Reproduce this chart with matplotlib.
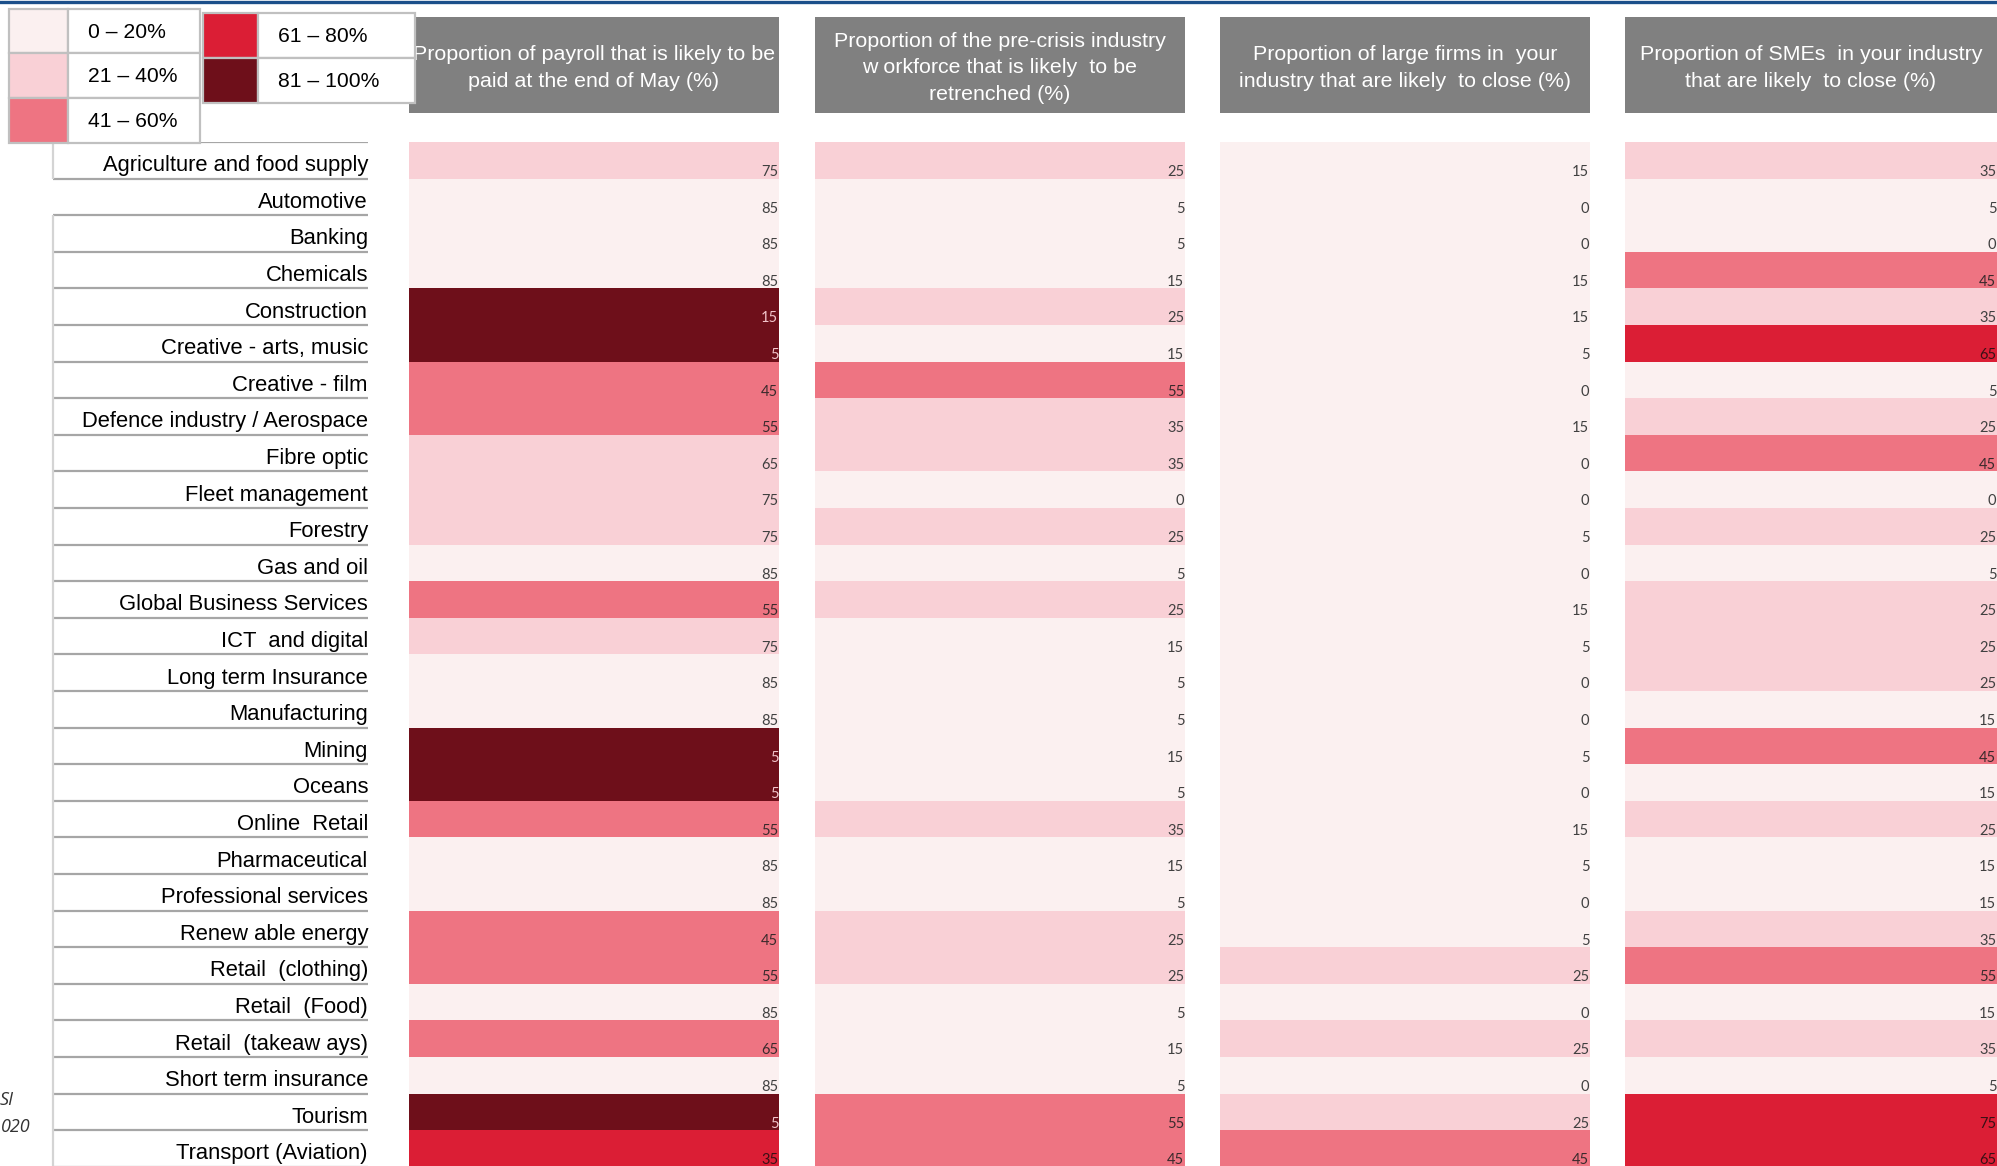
import matplotlib.pyplot as plt
from matplotlib.patches import Rectangle

W, H = 1997, 1166

industries = [
    "Agriculture and food supply", "Automotive", "Banking", "Chemicals",
    "Construction", "Creative - arts, music", "Creative - film",
    "Defence industry / Aerospace", "Fibre optic", "Fleet management",
    "Forestry", "Gas and oil", "Global Business Services", "ICT  and digital",
    "Long term Insurance", "Manufacturing", "Mining", "Oceans",
    "Online  Retail", "Pharmaceutical", "Professional services",
    "Renew able energy", "Retail  (clothing)", "Retail  (Food)",
    "Retail  (takeaw ays)", "Short term insurance", "Tourism",
    "Transport (Aviation)",
]

payroll = [75, 85, 85, 85, 15, 5, 45, 55, 65, 75, 75, 85, 55, 75,
           85, 85, 5, 5, 55, 85, 85, 45, 55, 85, 65, 85, 5, 35]
# colour band shown for the payroll column (0 = 0-20% ... 4 = 81-100%)
payroll_band = [1, 0, 0, 0, 4, 4, 2, 2, 1, 1, 1, 0, 2, 1,
                0, 0, 4, 4, 2, 0, 0, 2, 2, 0, 2, 0, 4, 3]
retrenched = [25, 5, 5, 15, 25, 15, 55, 35, 35, 0, 25, 5, 25, 15,
              5, 5, 15, 5, 35, 15, 5, 25, 25, 5, 15, 5, 55, 45]
large_close = [15, 0, 0, 15, 15, 5, 0, 15, 0, 0, 5, 0, 15, 5,
               0, 0, 5, 0, 15, 5, 0, 5, 25, 0, 25, 0, 25, 45]
sme_close = [35, 5, 0, 45, 35, 65, 5, 25, 45, 0, 25, 5, 25, 25,
             25, 15, 45, 15, 25, 15, 15, 35, 55, 15, 35, 5, 75, 65]

headers = [
    "Proportion of payroll that is likely to be\npaid at the end of May (%)",
    "Proportion of the pre-crisis industry\nw orkforce that is likely  to be\nretrenched (%)",
    "Proportion of large firms in  your\nindustry that are likely  to close (%)",
    "Proportion of SMEs  in your industry\nthat are likely  to close (%)",
]

band_labels = ["0 \u2013 20%", "21 \u2013 40%", "41 \u2013 60%", "61 \u2013 80%", "81 \u2013 100%"]
band_colors = ["#FBF0F0", "#F9D0D6", "#EE7482", "#DB1E35", "#6E0F1A"]
text_colors = ["#404040", "#404040", "#3A2A2C", "#3A1015", "#F2C4CA"]


def band_of(v):
    return min(4, max(0, (v - 1) // 20))


columns = [payroll, retrenched, large_close, sme_close]
bands = [payroll_band] + [[band_of(v) for v in col] for col in columns[1:]]

col_x = [(409, 779), (815, 1185), (1220, 1590), (1625, 1997)]
row_top, row_h = 142, 36.6
n = len(industries)
row_bottom = row_top + n * row_h


def rect(x0, y0, x1, y1):
    return [x0 / W, 1 - y1 / H, (x1 - x0) / W, (y1 - y0) / H]


fig = plt.figure(figsize=(W / 100, H / 100), dpi=100)
fig.patch.set_facecolor("white")

rows = list(range(n))

# heat columns
for values, band, (x0, x1), head in zip(columns, bands, col_x, headers):
    ax = fig.add_axes(rect(x0, row_top, x1, row_bottom))
    ax.barh(rows, 1, height=1, left=0, align="edge",
            color=[band_colors[b] for b in band])
    for i, (v, b) in enumerate(zip(values, band)):
        ax.text(0.998, i + 0.93, str(v), ha="right", va="baseline",
                fontsize=10.5, family="Lato", color=text_colors[b])
    ax.set_xlim(0, 1)
    ax.set_ylim(n, 0)
    ax.axis("off")

    hx = fig.add_axes(rect(x0, 17, x1, 113))
    hx.set_facecolor("#808080")
    hx.set_xticks([])
    hx.set_yticks([])
    for s in hx.spines.values():
        s.set_visible(False)
    hx.text(0.5, 0.47, head, ha="center", va="center", color="white",
            fontsize=15.4, family="Liberation Sans", linespacing=1.5,
            clip_on=False)

# row labels
lx = fig.add_axes(rect(51, row_top, 368, row_bottom))
lx.set_xlim(0, 1)
lx.set_ylim(n, 0)
lx.axis("off")
lx.hlines([i + 1 for i in rows] + [0], 0.006, 1, color="#A6A6A6", lw=1.6)
lx.vlines(0.006, 0, 1, color="#D4D4D4", lw=1.6)
lx.vlines(0.006, 2, n, color="#D4D4D4", lw=1.6)
for i, name in enumerate(industries):
    lx.text(1, i + 0.8, name, ha="right", va="baseline", fontsize=15.8,
            family="Liberation Sans", color="black")

# overlay in pixel coordinates: legend and top rule
ov = fig.add_axes([0, 0, 1, 1])
ov.set_xlim(0, W)
ov.set_ylim(H, 0)
ov.axis("off")
ov.axhline(1.5, color="#1B4F8A", lw=2.4)

legend_cells = [
    (9, 68, 200, 9, 53, 0),
    (9, 68, 200, 53, 98, 1),
    (9, 68, 200, 98, 143, 2),
    (203, 258, 415, 13, 58, 3),
    (203, 258, 415, 58, 103, 4),
]
for x0, xs, x1, y0, y1, b in legend_cells:
    ov.add_patch(Rectangle((x0, y0), xs - x0, y1 - y0, facecolor=band_colors[b],
                           edgecolor="#C0C0C0", lw=1.6))
    ov.add_patch(Rectangle((xs, y0), x1 - xs, y1 - y0, facecolor="white",
                           edgecolor="#C0C0C0", lw=1.6))
    ov.text(xs + 20, (y0 + y1) / 2 + 1, band_labels[b], ha="left", va="center",
            fontsize=15.2, family="Liberation Sans", color="black")

# fragment of the source note visible at the left edge
ov.text(0, 1100, "SI", ha="left", va="center",
        fontsize=13, family="Open Sans", style="italic", color="#333333")
ov.text(1, 1127, "020", ha="left", va="center",
        fontsize=13, family="Open Sans", style="italic", color="#333333")

fig.savefig("out.png", dpi=100)
